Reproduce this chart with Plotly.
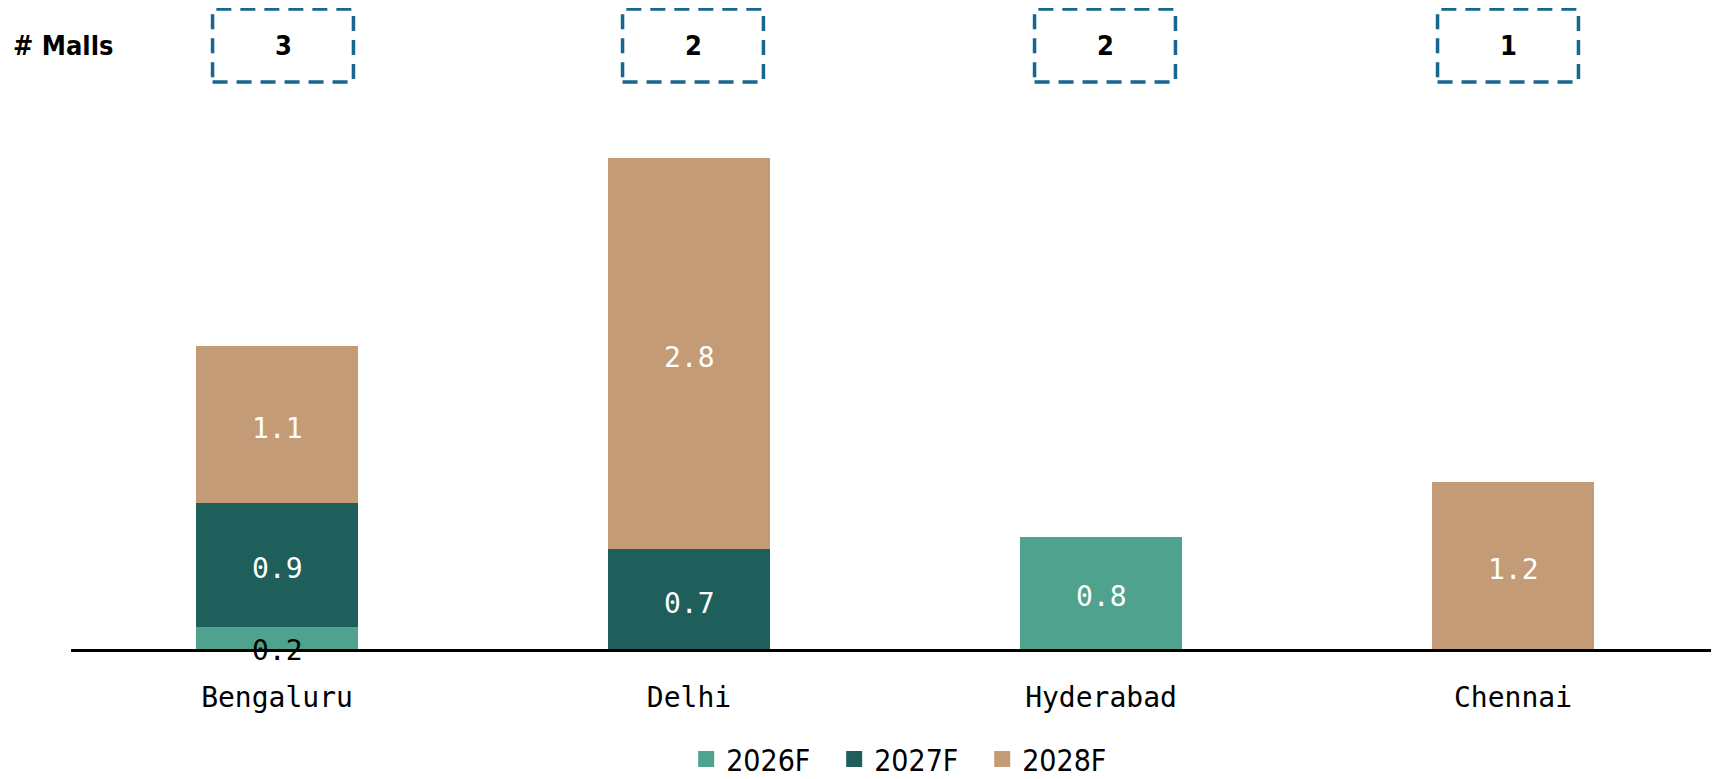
import plotly.graph_objects as go

cities = ["Bengaluru", "Delhi", "Hyderabad", "Chennai"]
malls = [3, 2, 2, 1]
series_names = ["2026F", "2027F", "2028F"]
v2026 = [0.16, None, 0.8, None]
v2027 = [0.88, 0.71, None, None]
v2028 = [1.12, 2.79, None, 1.19]
colors = ["#4ea28e", "#1e5e5b", "#c39b77"]

FONT_MONO = "DejaVu Sans Mono"
FONT_BOLD = "DejaVu Sans Condensed"
SMALL = 0.3  # thin segments: dark label straddling the axis

# page has an 8px body margin; figure sized so it fits the 1719x779 window
OFF = 8
W, H = 1719 - OFF, 779 - OFF
L, T, B = 71 - OFF, 100 - OFF, 130
ph = H - T - B
pw = W - L
CAT_PX = pw / 4.0
BOX_SHIFT = [6, 4, 4, -5]  # small pixel nudges of the "# Malls" boxes


def py(p):  # page pixel -> paper y
    return (H - B - (p - OFF)) / ph


def px(p):  # page pixel -> paper x
    return (p - OFF - L) / pw


fig = go.Figure()
xs = list(range(len(cities)))
base = [0.0] * len(cities)
for name, vals, col in zip(series_names, [v2026, v2027, v2028], colors):
    fig.add_trace(go.Bar(
        x=xs, y=vals, name=name, marker=dict(color=col, line=dict(width=0)),
        width=0.395, showlegend=False, hoverinfo="skip"))
    for i, v in enumerate(vals):
        if v is None:
            continue
        small = v < SMALL
        fig.add_annotation(x=xs[i], y=base[i] + v / 2, xref="x", yref="y",
                           text=f"{v:.1f}", showarrow=False,
                           yshift=-13 if small else -4,
                           font=dict(family=FONT_MONO, size=28,
                                     color="black" if small else "white"))
        base[i] += v
    fig.add_trace(go.Scatter(
        x=[None], y=[None], mode="markers", name=name,
        marker=dict(symbol="square", size=18, color=col), showlegend=True))

for i, m in enumerate(malls):
    dx = BOX_SHIFT[i] / CAT_PX
    fig.add_shape(type="rect", xref="x", yref="paper",
                  x0=i - 0.171 + dx, x1=i + 0.171 + dx, y0=py(82), y1=py(9),
                  line=dict(color="#17668f", width=3.5, dash="15px,9px"),
                  fillcolor="rgba(0,0,0,0)")
    fig.add_annotation(x=i, xref="x", xshift=BOX_SHIFT[i],
                       y=py(46), yref="paper", yanchor="middle",
                       text=f"<b>{m}</b>", showarrow=False,
                       font=dict(family=FONT_BOLD, size=27, color="black"))

fig.add_annotation(x=px(11), xref="paper", xanchor="left",
                   y=py(46), yref="paper", yanchor="middle",
                   text="<b># Malls</b>", showarrow=False,
                   font=dict(family=FONT_BOLD, size=27, color="black"))

fig.update_layout(
    template="none",
    width=W, height=H,
    margin=dict(l=L, r=0, t=T, b=B, pad=0, autoexpand=False),
    barmode="stack",
    plot_bgcolor="white", paper_bgcolor="white",
    xaxis=dict(tickmode="array", tickvals=xs, ticktext=cities,
               range=[-0.5, 3.5], showgrid=False, zeroline=False,
               showline=True, linecolor="black", linewidth=2.5,
               ticks="", ticklabelstandoff=22, automargin=False,
               tickfont=dict(family=FONT_MONO, size=28, color="black")),
    yaxis=dict(range=[0, ph / 140.3], visible=False, showgrid=False,
               zeroline=False, automargin=False),
    legend=dict(orientation="h", x=0.508, xanchor="center",
                y=py(759), yanchor="middle", traceorder="normal",
                font=dict(family=FONT_BOLD, size=30, color="black"),
                itemwidth=30, entrywidth=103, entrywidthmode="pixels",
                bgcolor="rgba(0,0,0,0)"),
    showlegend=True,
)

fig.write_html("out.html")
